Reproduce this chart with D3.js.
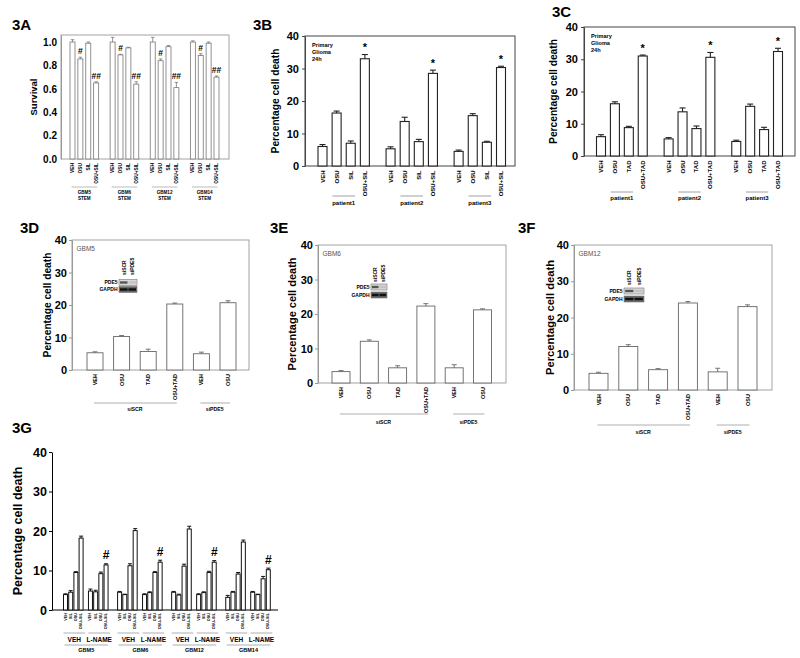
<!DOCTYPE html>
<html><head><meta charset="utf-8">
<script src="https://cdn.jsdelivr.net/npm/d3@7"></script>
<style>body{margin:0;background:#fff} svg{display:block}</style>
</head><body><svg id="c" width="800" height="658"></svg>
<script>
// ---------- DATA ----------
const aCells = ["GBM5","GBM6","GBM12","GBM14"];
const aTreat = ["VEH","OSU","SIL","OSU+SIL"];
const aSurv = [[1.00,0.855,0.99,0.65],[1.00,0.89,0.95,0.64],[1.00,0.84,0.96,0.61],[1.00,0.885,0.99,0.70]];
const aSurvErr = [[0.02,0.015,0.01,0.01],[0.04,0.005,0.005,0.02],[0.04,0.015,0.01,0.045],[0.01,0.015,0.01,0.01]];
const aMarks = ["","#","","##"];
const aTicks = [0,0.2,0.4,0.6,0.8,1.0];

const patients = ["patient1","patient2","patient3"];
const bTreat = ["VEH","OSU","SIL","OSU+SIL"];
const bDeath = [[6.0,16.3,7.0,33.0],[5.3,13.7,7.5,28.5],[4.5,15.5,7.3,30.3]];
const bErr = [[0.6,0.6,0.7,1.3],[0.6,1.3,0.7,1.0],[0.4,0.6,0.3,0.4]];
const cTreat = ["VEH","OSU","TAD","OSU+TAD"];
const cDeath = [[6.0,16.2,8.8,31.0],[5.3,13.7,8.5,30.6],[4.5,15.4,8.2,32.4]];
const cErr = [[0.6,0.6,0.4,0.3],[0.4,1.2,0.8,1.5],[0.4,0.7,0.7,1.0]];
const bcMarks = ["","","","*"];
const noteLines = ["Primary","Glioma","24h"];
const pctTicks = [0,10,20,30,40];

const siTreat = ["VEH","OSU","TAD","OSU+TAD","VEH","OSU"];
const siSets = [{name:"siSCR",from:0,to:3},{name:"siPDE5",from:4,to:5}];
const dDeath = [5.3,10.3,5.7,20.3,5.0,20.7];
const dErr = [0.3,0.3,0.7,0.3,0.5,0.6];
const eDeath = [3.3,12.1,4.4,22.3,4.4,21.2];
const eErr = [0.3,0.4,0.6,0.7,0.9,0.3];
const fDeath = [4.6,12.0,5.6,24.0,5.0,23.0];
const fErr = [0.3,0.5,0.3,0.4,1.0,0.5];
const siCellNames = ["GBM5","GBM6","GBM12"];
const blotLanes = ["siSCR","siPDE5"];
const blotRows = ["PDE5","GAPDH"];

const gCells = ["GBM5","GBM6","GBM12","GBM14"];
const gConds = ["VEH","L-NAME"];
const gTreat = ["VEH","SIL","OSU","OSU+SIL"];
const gDeath = [
  [[3.9,4.5,9.5,18.2],[4.8,4.6,9.2,11.4]],
  [[4.5,3.9,11.2,20.1],[3.9,4.4,9.5,12.1]],
  [[4.5,3.8,11.1,20.5],[3.9,4.4,9.5,12.1]],
  [[3.2,4.5,9.1,17.2],[4.5,3.9,7.9,10.2]]
];
const gErr = [
  [[0.2,0.4,0.2,0.5],[0.5,0.4,0.4,0.3]],
  [[0.2,0.1,0.5,0.5],[0.2,0.2,0.2,0.5]],
  [[0.2,0.2,0.5,0.7],[0.2,0.2,0.3,0.4]],
  [[0.5,0.2,0.4,0.5],[0.2,0.1,0.6,0.4]]
];
const gMarks = [["","","",""],["","","","#"]];

// ---------- HELPERS ----------
const FONT = '"Liberation Sans", Arial, Helvetica, sans-serif';
const svg = d3.select("#c").attr("font-family", FONT);

function txt(x, y, s, fs, opt = {}) {
  return svg.append("text").attr("x", x).attr("y", y).attr("font-size", fs)
    .attr("font-weight", opt.bold === false ? "normal" : "bold")
    .attr("fill", opt.fill || "#000").attr("text-anchor", opt.anchor || "start").text(s);
}
function rotTxt(x, y, s, fs, anchor, bold = true, fill = "#000") {
  svg.append("text").attr("transform", `translate(${x},${y}) rotate(-90)`)
    .attr("text-anchor", anchor).attr("dominant-baseline", "central")
    .attr("font-size", fs).attr("font-weight", bold ? "bold" : "normal").attr("fill", fill).text(s);
}
function frame(L, T, R, B, color, sw) {
  svg.append("rect").attr("x", L).attr("y", T).attr("width", R - L).attr("height", B - T)
    .attr("fill", "none").attr("stroke", color).attr("stroke-width", sw);
}
function yAxis(ys, x, ticks, fmt, fs, tlen, pad, color) {
  const ax = d3.axisLeft(ys).tickValues(ticks).tickFormat(fmt).tickSize(tlen).tickSizeOuter(0).tickPadding(pad);
  const g = svg.append("g").attr("transform", `translate(${x},0)`).call(ax);
  g.attr("font-family", FONT);
  g.selectAll("text").attr("font-size", fs).attr("font-weight", "bold").attr("fill", "#000");
  g.select(".domain").attr("stroke", color);
  g.selectAll(".tick line").attr("stroke", color);
}
function drawBars(items, xs, ys, w, stroke, sw, opt) {
  const g = svg.append("g");
  g.selectAll("rect").data(items).join("rect")
    .attr("x", d => xs(d.slot) - w / 2).attr("y", d => ys(d.v))
    .attr("width", w).attr("height", d => ys(0) - ys(d.v))
    .attr("fill", "#fff").attr("stroke", stroke).attr("stroke-width", sw);
  const cap = opt.cap;
  g.selectAll("line.v").data(items).join("line").attr("class", "v")
    .attr("x1", d => xs(d.slot)).attr("x2", d => xs(d.slot))
    .attr("y1", d => ys(d.v)).attr("y2", d => ys(d.v + d.e))
    .attr("stroke", stroke).attr("stroke-width", sw);
  g.selectAll("line.c").data(items).join("line").attr("class", "c")
    .attr("x1", d => xs(d.slot) - cap / 2).attr("x2", d => xs(d.slot) + cap / 2)
    .attr("y1", d => ys(d.v + d.e)).attr("y2", d => ys(d.v + d.e))
    .attr("stroke", stroke).attr("stroke-width", sw);
  items.forEach(d => rotTxt(xs(d.slot), ys(0) + opt.labOff, d.label, opt.labFs, "end"));
  items.filter(d => d.mark).forEach(d =>
    txt(xs(d.slot), ys(d.v + d.e) - opt.markOff, d.mark, opt.markFs, {anchor: "middle"}));
}
function groupLine(x1, x2, y, color) {
  svg.append("line").attr("x1", x1).attr("x2", x2).attr("y1", y).attr("y2", y)
    .attr("stroke", color || "#999").attr("stroke-width", 0.8);
}
function blot(boxL, boxW, laneBottom, rowY, rowH, fs) {
  const lanes = d3.scaleBand().domain(blotLanes).range([boxL, boxL + boxW]).padding(0.12);
  blotLanes.forEach(l => rotTxt(lanes(l) + lanes.bandwidth() / 2, laneBottom, l, fs, "start"));
  blotRows.forEach((r, i) => {
    const y0 = rowY[i];
    txt(boxL - 1.5, y0 + rowH * 0.8, r, fs, {anchor: "end"});
    svg.append("rect").attr("x", boxL).attr("y", y0).attr("width", boxW).attr("height", rowH)
      .attr("fill", i === 0 ? "#d9d9d9" : "#666").attr("stroke", "#777").attr("stroke-width", 0.6);
    blotLanes.forEach((l, j) => {
      const col = i === 0 ? (j === 0 ? "#555" : "#c4c4c4") : "#111";
      svg.append("rect").attr("x", lanes(l)).attr("y", y0 + rowH * 0.3)
        .attr("width", lanes.bandwidth()).attr("height", rowH * 0.4).attr("fill", col);
    });
  });
}

// ---------- PANEL 3A ----------
{
  const xs = d3.scaleLinear().domain([0, 3 * 5.09 + 3]).range([72.5, 216.5]);
  const ys = d3.scaleLinear().domain([0, 1.06]).range([159, 35]);
  txt(12, 30, "3A", 15);
  frame(61, 35, 229, 159, "#999", 0.9);
  yAxis(ys, 61, aTicks, d3.format(".1f"), 10, 0, 4, "#999");
  rotTxt(33, 97, "Survival", 9.5, "middle");
  const items = [];
  aCells.forEach((c, gi) => aTreat.forEach((t, i) =>
    items.push({slot: gi * 5.09 + i, v: aSurv[gi][i], e: aSurvErr[gi][i], label: t, mark: aMarks[i]})));
  drawBars(items, xs, ys, 5, "#777", 0.8, {cap: 3.5, labOff: 4, labFs: 4.8, markOff: 3.2, markFs: 8.5});
  aCells.forEach((c, gi) => {
    groupLine(xs(gi * 5.09) - 1, xs(gi * 5.09 + 3) + 1, 187, "#aaa");
    txt(xs(gi * 5.09 + 1.5), 193.5, c, 4.6, {anchor: "middle"});
    txt(xs(gi * 5.09 + 1.5), 199.5, "STEM", 4.6, {anchor: "middle"});
  });
}

// ---------- PANELS 3B / 3C ----------
function patientPanel(cfg) {
  const step = 4 + cfg.gap;
  const xs = d3.scaleLinear().domain([0, 2 * step + 3]).range(cfg.xr);
  const ys = d3.scaleLinear().domain([0, 40]).range([cfg.B, cfg.T]);
  txt(cfg.lab[0], cfg.lab[1], cfg.name, 15);
  frame(cfg.L, cfg.T, cfg.R, cfg.B, "#444", 1);
  yAxis(ys, cfg.L, pctTicks, d3.format("d"), 11, 3, 3, "#444");
  rotTxt(cfg.yl, (cfg.T + cfg.B) / 2, "Percentage cell death", 10.2, "middle");
  noteLines.forEach((s, i) => txt(cfg.L + 7, cfg.T + 10.5 + i * 7, s, 5.6));
  const items = [];
  patients.forEach((p, gi) => cfg.treat.forEach((t, i) =>
    items.push({slot: gi * step + i, v: cfg.vals[gi][i], e: cfg.errs[gi][i], label: t, mark: bcMarks[i]})));
  drawBars(items, xs, ys, 9, "#222", 1.1, {cap: 6, labOff: 4.5, labFs: 6, markOff: 3.5, markFs: 11});
  patients.forEach((p, gi) => {
    groupLine(xs(gi * step + 0.7), xs(gi * step + 2.3), cfg.gl, "#888");
    txt(xs(gi * step + 1.5), cfg.gt, p, 6, {anchor: "middle"});
  });
}
patientPanel({name: "3B", lab: [253, 30], L: 305, T: 36, R: 515, B: 166, xr: [322.5, 501], gap: 0.82,
  yl: 275, treat: bTreat, vals: bDeath, errs: bErr, gl: 196, gt: 205});
patientPanel({name: "3C", lab: [552, 16.5], L: 584, T: 27, R: 795, B: 156, xr: [601, 778], gap: 0.86,
  yl: 553, treat: cTreat, vals: cDeath, errs: cErr, gl: 192, gt: 199.5});

// ---------- PANELS 3D / 3E / 3F ----------
function siPanel(cfg) {
  const xs = d3.scaleLinear().domain([0, siTreat.length - 1]).range(cfg.xr);
  const ys = d3.scaleLinear().domain([0, 40]).range([cfg.B, cfg.T]);
  txt(cfg.lab[0], cfg.lab[1], cfg.name, 15);
  frame(cfg.L, cfg.T, cfg.R, cfg.B, "#999", 0.9);
  yAxis(ys, cfg.L, pctTicks, d3.format("d"), 11, 3, 2, "#999");
  rotTxt(cfg.yl, (cfg.T + cfg.B) / 2, "Percentage cell death", cfg.ylFs, "middle");
  txt(cfg.L + 4.5, cfg.T + 11, cfg.cell, 6.5, {bold: false, fill: "#555"});
  const items = siTreat.map((t, i) => ({slot: i, v: cfg.vals[i], e: cfg.errs[i], label: t, mark: ""}));
  drawBars(items, xs, ys, cfg.w, "#666", 0.9, {cap: 5, labOff: 4, labFs: 5.5, markOff: 3, markFs: 9});
  siSets.forEach(s => {
    groupLine(xs(s.from) - 1, xs(s.to) + 2, cfg.gl, "#999");
    txt((xs(s.from) + xs(s.to)) / 2, cfg.gt, s.name, 5.2, {anchor: "middle"});
  });
  blot(cfg.blot[0], cfg.blot[1], cfg.blot[2], cfg.blot[3], cfg.blot[4], 5);
}
siPanel({name: "3D", lab: [20, 233], L: 72, T: 240, R: 249, B: 370, xr: [95, 228], w: 16, yl: 47, ylFs: 10.2,
  vals: dDeath, errs: dErr, cell: siCellNames[0], gl: 403, gt: 410.5, blot: [119, 18, 275, [279.5, 286.5], 6]});
siPanel({name: "3E", lab: [270, 233], L: 318, T: 245, R: 506, B: 383, xr: [341, 482.5], w: 18, yl: 292, ylFs: 11,
  vals: eDeath, errs: eErr, cell: siCellNames[1], gl: 414, gt: 424, blot: [371, 16, 282, [284, 292], 6]});
siPanel({name: "3F", lab: [518, 233], L: 574, T: 245, R: 772, B: 390, xr: [598.5, 747.5], w: 19, yl: 550, ylFs: 11.2,
  vals: fDeath, errs: fErr, cell: siCellNames[2], gl: 425, gt: 433.5, blot: [624, 20, 285, [288, 296], 6]});

// ---------- PANEL 3G ----------
{
  const slotOf = (c, s, i) => c * 10.4 + s * 4.8 + i;
  const xs = d3.scaleLinear().domain([0, slotOf(3, 1, 3)]).range([65.5, 268.3]);
  const ys = d3.scaleLinear().domain([0, 40]).range([610, 452]);
  txt(12, 433, "3G", 15);
  yAxis(ys, 52, pctTicks, d3.format("d"), 12.5, 3, 2, "#000");
  svg.append("line").attr("x1", 52).attr("x2", 278).attr("y1", 610).attr("y2", 610).attr("stroke", "#000");
  rotTxt(18, 531, "Percentage cell death", 12.5, "middle");
  const items = [];
  gCells.forEach((c, ci) => gConds.forEach((k, si) => gTreat.forEach((t, i) =>
    items.push({slot: slotOf(ci, si, i), v: gDeath[ci][si][i], e: gErr[ci][si][i], label: t, mark: gMarks[si][i]}))));
  drawBars(items, xs, ys, 4, "#111", 1, {cap: 4, labOff: 3, labFs: 3.8, markOff: 4.5, markFs: 12});
  gCells.forEach((c, ci) => {
    gConds.forEach((k, si) => {
      const a = xs(slotOf(ci, si, 0)) - 2, b = xs(slotOf(ci, si, 3)) + 4;
      groupLine(a, b, 633, "#999");
      txt((a + b) / 2, 641.5, k, 6.5, {anchor: "middle"});
    });
    const a = xs(slotOf(ci, 0, 0)) - 1, b = xs(slotOf(ci, 1, 3)) + 2;
    groupLine(a, b, 645, "#999");
    txt((a + b) / 2, 652, c, 5.5, {anchor: "middle"});
  });
}
</script></body></html>
